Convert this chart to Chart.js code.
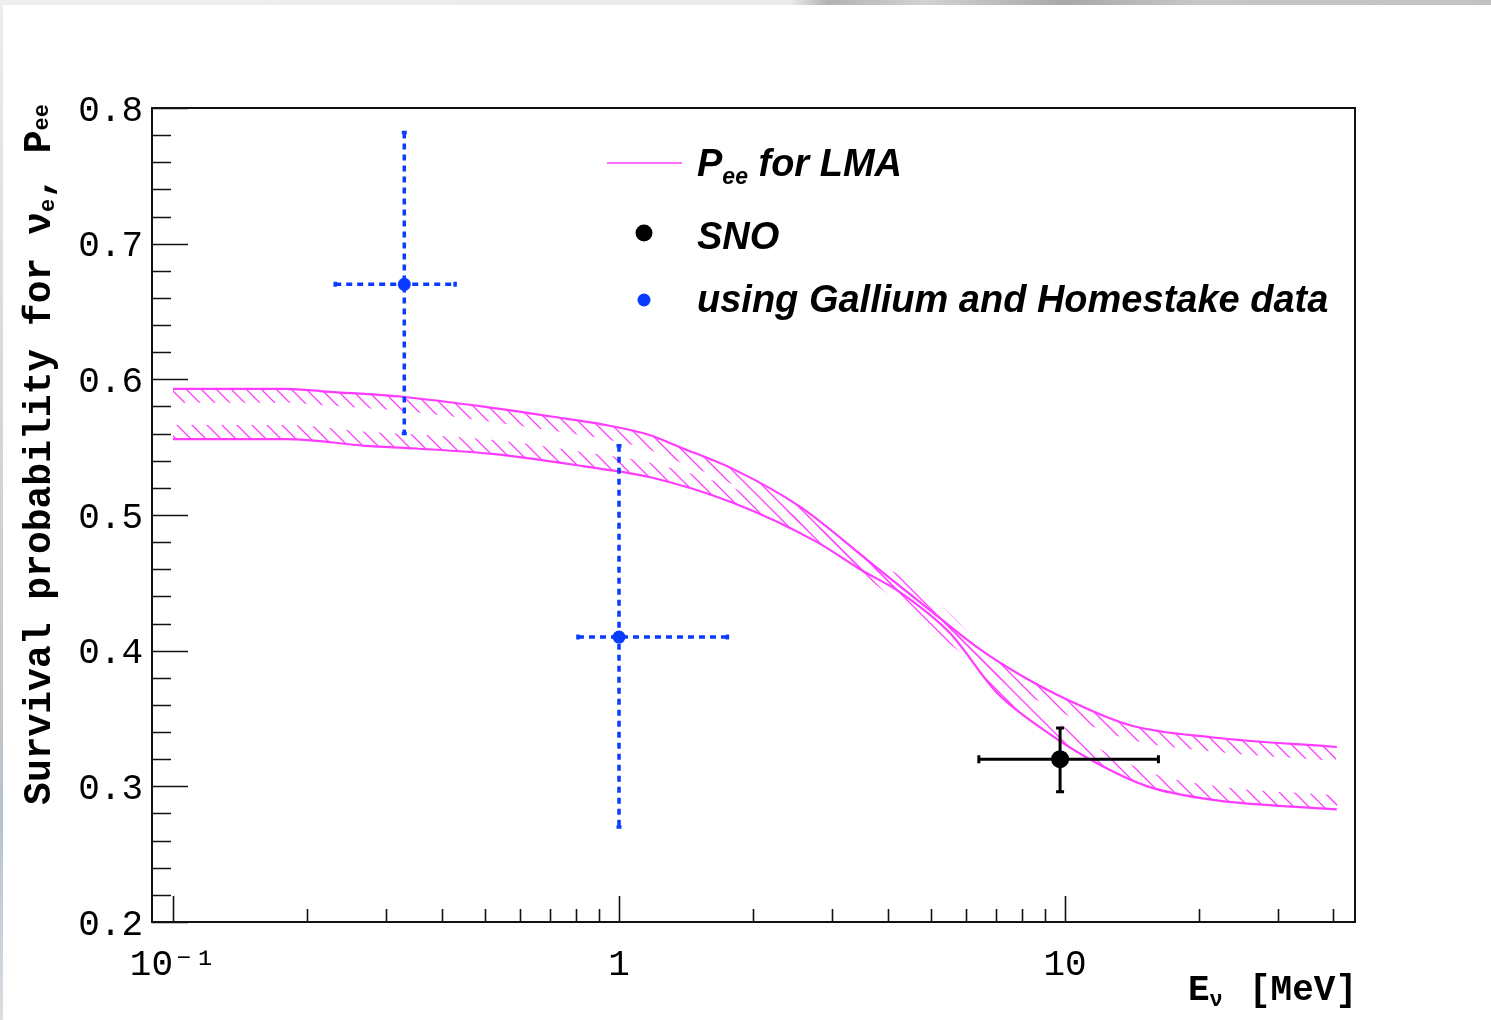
<!DOCTYPE html>
<html lang="en">
<head>
<meta charset="UTF-8">
<title>Survival probability for electron neutrinos</title>
<script src="https://cdn.jsdelivr.net/npm/chart.js@4.4.1/dist/chart.umd.min.js"></script>
<style>
  html, body { margin: 0; padding: 0; background: #fff; }
  #wrap { position: relative; width: 1491px; height: 1020px; overflow: hidden; }
  #topbar { position: absolute; left: 0; top: 0; width: 1491px; height: 5px;
    background: linear-gradient(100deg, #eeeeee 0%, #ebebeb 53%, #b2b2b2 55.5%, #d2d2d2 62%, #a8a8a8 71.5%, #c6c6c6 80%, #c2c2c2 100%); }
  #leftbar { position: absolute; left: 0; top: 5px; width: 3px; height: 1015px;
    background: linear-gradient(#ececec, #d4d4d4 45%, #b8c2ca 80%, #d7dee4); }
  canvas { position: absolute; left: 0; top: 0; }
</style>
</head>
<body>
<div id="wrap">
  <div id="topbar"></div>
  <div id="leftbar"></div>
  <canvas id="pee" width="1491" height="1020"></canvas>
</div>
<script>
  // LMA band: upper and lower edge of P_ee vs neutrino energy (MeV)
  const upperE = [0.1, 0.18, 0.22, 0.33, 0.52, 0.76, 0.91, 1.17, 1.37, 1.8, 2.55, 3.6, 5.06, 6.45, 8.05, 10.1, 14.0, 21.5, 40.7];
  const upperP = [0.593, 0.593, 0.591, 0.587, 0.579, 0.571, 0.567, 0.559, 0.550, 0.534, 0.506, 0.467, 0.428, 0.401, 0.381, 0.364, 0.345, 0.336, 0.329];
  const lowerE = [0.1, 0.18, 0.27, 0.35, 0.52, 0.83, 1.17, 1.8, 2.78, 3.47, 4.27, 5.52, 7.04, 9.11, 11.8, 15.3, 21.5, 40.7];
  const lowerP = [0.556, 0.556, 0.551, 0.549, 0.545, 0.536, 0.528, 0.509, 0.480, 0.460, 0.443, 0.413, 0.369, 0.340, 0.317, 0.300, 0.290, 0.283];

  // SNO measurement
  const snoE = [9.75], snoELo = [6.41], snoEHi = [16.2];
  const snoP = [0.32], snoPLo = [0.296], snoPHi = [0.343];

  // from Gallium and Homestake rates
  const gaE = [0.33, 1.0], gaELo = [0.231, 0.809], gaEHi = [0.429, 1.75];
  const gaP = [0.67, 0.41], gaPLo = [0.56, 0.27], gaPHi = [0.782, 0.551];

  // axis ticks
  const xTickValues = [0.1, 0.2, 0.3, 0.4, 0.5, 0.6, 0.7, 0.8, 0.9, 1, 2, 3, 4, 5, 6, 7, 8, 9, 10, 20, 30, 40];
  const xTickLabels = { 0.1: '10\u207B\u00B9', 1: '1', 10: '10' };
  const xMajor = [0.1, 1, 10];

  const MAGENTA = '#ff3cff';
  const BLUE = '#0a3cff';
  const MONO = '"Liberation Mono", "DejaVu Sans Mono", monospace';
  const SANS = '"Liberation Sans", Arial, sans-serif';

  const pts = (xs, ys) => xs.map((x, i) => ({ x: x, y: ys[i] }));

  // sample the drawn (bezier) line of a dataset in pixel space
  function curveSamples(meta) {
    const p = meta.data;
    const out = [];
    for (let i = 0; i < p.length - 1; i++) {
      const a = p[i], b = p[i + 1];
      const c1x = a.cp2x ?? a.x, c1y = a.cp2y ?? a.y;
      const c2x = b.cp1x ?? b.x, c2y = b.cp1y ?? b.y;
      for (let k = 0; k < 12; k++) {
        const t = k / 12, u = 1 - t;
        out.push({
          x: u * u * u * a.x + 3 * u * u * t * c1x + 3 * u * t * t * c2x + t * t * t * b.x,
          y: u * u * u * a.y + 3 * u * u * t * c1y + 3 * u * t * t * c2y + t * t * t * b.y
        });
      }
    }
    const last = p[p.length - 1];
    out.push({ x: last.x, y: last.y });
    return out;
  }

  // hatched strip on one side of each band edge
  const hatchPlugin = {
    id: 'hatch',
    afterDatasetDraw(chart, args) {
      const ds = chart.data.datasets[args.index];
      if (!ds.hatchSide) return;
      const meta = args.meta;
      meta.dataset.updateControlPoints(chart.chartArea);
      const s = curveSamples(meta);
      const w = 14, side = ds.hatchSide;
      const off = s.map((q, i) => {
        const a = s[Math.max(0, i - 1)], b = s[Math.min(s.length - 1, i + 1)];
        let tx = b.x - a.x, ty = b.y - a.y;
        const l = Math.hypot(tx, ty) || 1;
        tx /= l; ty /= l;
        return { x: q.x - ty * w * side, y: q.y + tx * w * side };
      });
      const ctx = chart.ctx, area = chart.chartArea;
      ctx.save();
      ctx.beginPath();
      ctx.rect(area.left, area.top, area.right - area.left, area.bottom - area.top);
      ctx.clip();
      ctx.beginPath();
      s.forEach((q, i) => i ? ctx.lineTo(q.x, q.y) : ctx.moveTo(q.x, q.y));
      for (let i = off.length - 1; i >= 0; i--) ctx.lineTo(off[i].x, off[i].y);
      ctx.closePath();
      ctx.clip();
      ctx.strokeStyle = MAGENTA;
      ctx.lineWidth = 1.3;
      ctx.beginPath();
      const H = area.bottom - area.top;
      let x0 = area.top + 7;
      while (x0 > area.left - H) x0 -= 15;
      for (let x = x0; x < area.right; x += 15) {
        ctx.moveTo(x, area.top);
        ctx.lineTo(x + H, area.top + H);
      }
      ctx.stroke();
      ctx.restore();
    }
  };

  // horizontal and vertical error bars, under the markers
  const errorBarPlugin = {
    id: 'errorBars',
    beforeDatasetDraw(chart, args) {
      const ds = chart.data.datasets[args.index];
      const eb = ds.errorBars;
      if (!eb) return;
      const ctx = chart.ctx, xs = chart.scales.x, ys = chart.scales.y;
      ctx.save();
      ctx.strokeStyle = eb.color;
      ctx.lineWidth = eb.width;
      ctx.setLineDash(eb.dash);
      ds.data.forEach((d, i) => {
        const px = xs.getPixelForValue(d.x), py = ys.getPixelForValue(d.y);
        const x1 = xs.getPixelForValue(eb.xLo[i]), x2 = xs.getPixelForValue(eb.xHi[i]);
        const y1 = ys.getPixelForValue(eb.yHi[i]), y2 = ys.getPixelForValue(eb.yLo[i]);
        ctx.beginPath();
        ctx.moveTo(x1, py); ctx.lineTo(x2, py);
        ctx.moveTo(px, y1); ctx.lineTo(px, y2);
        ctx.stroke();
        ctx.setLineDash([]);
        ctx.beginPath();
        const c = eb.cap;
        ctx.moveTo(x1, py - c); ctx.lineTo(x1, py + c);
        ctx.moveTo(x2, py - c); ctx.lineTo(x2, py + c);
        ctx.moveTo(px - c, y1); ctx.lineTo(px + c, y1);
        ctx.moveTo(px - c, y2); ctx.lineTo(px + c, y2);
        ctx.stroke();
        ctx.setLineDash(eb.dash);
      });
      ctx.restore();
    }
  };

  function drawRuns(ctx, runs, x, y) {
    for (const r of runs) {
      ctx.font = r.font;
      ctx.fillText(r.t, x, y + (r.dy || 0));
      x += ctx.measureText(r.t).width;
    }
  }
  function runsWidth(ctx, runs) {
    let w = 0;
    for (const r of runs) { ctx.font = r.font; w += ctx.measureText(r.t).width; }
    return w;
  }

  // frame, inside ticks, axis titles and legend
  const framePlugin = {
    id: 'frame',
    afterDraw(chart) {
      const ctx = chart.ctx, a = chart.chartArea;
      const xs = chart.scales.x, ys = chart.scales.y;
      ctx.save();
      ctx.strokeStyle = '#111';
      ctx.lineWidth = 1.6;
      ctx.beginPath();
      ys.ticks.forEach(t => {
        const py = Math.round(ys.getPixelForValue(t.value)) + 0.5;
        const len = t.label ? 36 : 19;
        ctx.moveTo(a.left, py); ctx.lineTo(a.left + len, py);
      });
      xs.ticks.forEach(t => {
        const px = Math.round(xs.getPixelForValue(t.value)) + 0.5;
        const len = xMajor.includes(t.value) ? 26 : 13;
        ctx.moveTo(px, a.bottom); ctx.lineTo(px, a.bottom - len);
      });
      ctx.stroke();
      ctx.lineWidth = 2;
      ctx.strokeRect(a.left, a.top, a.right - a.left, a.bottom - a.top);

      ctx.fillStyle = '#000';
      ctx.textAlign = 'left';
      ctx.textBaseline = 'alphabetic';

      // y title
      const big = 'bold 38px ' + MONO, sub = 'bold 22px ' + MONO;
      const yRuns = [
        { t: 'Survival probability for \u03BD', font: big },
        { t: 'e', font: sub, dy: 4 },
        { t: ', P', font: big },
        { t: 'ee', font: sub, dy: -2 }
      ];
      const wy = runsWidth(ctx, yRuns);
      ctx.save();
      ctx.translate(50, 104);
      ctx.rotate(-Math.PI / 2);
      drawRuns(ctx, yRuns, -wy, 0);
      ctx.restore();

      // x title
      drawRuns(ctx, [
        { t: 'E', font: 'bold 36px ' + MONO },
        { t: '\u03BD', font: 'bold 22px ' + MONO, dy: 6 }
      ], 1188, 1000);
      ctx.font = 'bold 36px ' + MONO;
      ctx.textAlign = 'right';
      ctx.fillText('[MeV]', 1357, 1000);
      ctx.textAlign = 'left';

      // legend
      ctx.strokeStyle = MAGENTA;
      ctx.lineWidth = 1.5;
      ctx.beginPath();
      ctx.moveTo(607, 163); ctx.lineTo(682, 163);
      ctx.stroke();
      const lf = 'italic bold 38px ' + SANS, lsub = 'italic bold 23px ' + SANS;
      drawRuns(ctx, [{ t: 'P', font: lf }, { t: 'ee', font: lsub, dy: 8 }, { t: ' for LMA', font: lf }], 697, 176);
      ctx.beginPath();
      ctx.arc(644, 233, 8.5, 0, Math.PI * 2);
      ctx.fill();
      drawRuns(ctx, [{ t: 'SNO', font: lf }], 697, 249);
      ctx.fillStyle = BLUE;
      ctx.beginPath();
      ctx.arc(644, 300, 6.5, 0, Math.PI * 2);
      ctx.fill();
      ctx.fillStyle = '#000';
      drawRuns(ctx, [{ t: 'using Gallium and Homestake data', font: lf }], 697, 312);
      ctx.restore();
    }
  };

  new Chart(document.getElementById('pee'), {
    type: 'line',
    data: {
      datasets: [
        {
          label: 'LMA upper', data: pts(upperE, upperP), hatchSide: 1, order: 3,
          borderColor: MAGENTA, borderWidth: 2.2, pointRadius: 0, fill: false,
          cubicInterpolationMode: 'monotone'
        },
        {
          label: 'LMA lower', data: pts(lowerE, lowerP), hatchSide: -1, order: 3,
          borderColor: MAGENTA, borderWidth: 2.2, pointRadius: 0, fill: false,
          cubicInterpolationMode: 'monotone'
        },
        {
          label: 'SNO', data: pts(snoE, snoP), showLine: false, order: 1,
          pointRadius: 9, pointBackgroundColor: '#000', pointBorderWidth: 0,
          errorBars: { xLo: snoELo, xHi: snoEHi, yLo: snoPLo, yHi: snoPHi, color: '#000', width: 3, dash: [], cap: 4 }
        },
        {
          label: 'using Gallium and Homestake data', data: pts(gaE, gaP), showLine: false, order: 1,
          pointRadius: 6.5, pointBackgroundColor: BLUE, pointBorderWidth: 0,
          errorBars: { xLo: gaELo, xHi: gaEHi, yLo: gaPLo, yHi: gaPHi, color: BLUE, width: 3.5, dash: [6, 5], cap: 2.5 }
        }
      ]
    },
    options: {
      responsive: false,
      animation: false,
      events: [],
      layout: { padding: { left: 0, right: 136, top: 108, bottom: 0 } },
      plugins: { legend: { display: false }, tooltip: { enabled: false } },
      scales: {
        x: {
          type: 'logarithmic',
          min: 0.0897, max: 44.7,
          afterBuildTicks: s => { s.ticks = xTickValues.map(v => ({ value: v })); },
          afterFit: s => { s.height = 98; },
          grid: { display: false, drawTicks: false },
          border: { display: false },
          ticks: {
            autoSkip: false, maxRotation: 0, padding: 22, color: '#000',
            font: { family: MONO, size: 36 },
            callback: v => xTickLabels[v] || ''
          }
        },
        y: {
          min: 0.2, max: 0.8,
          afterFit: s => { s.width = 152; },
          grid: { display: false, drawTicks: false },
          border: { display: false },
          ticks: {
            stepSize: 0.02, autoSkip: false, padding: 9, labelOffset: 3, color: '#000',
            font: { family: MONO, size: 36 },
            callback: v => Math.abs(v * 10 - Math.round(v * 10)) < 1e-6 ? v.toFixed(1) : ''
          }
        }
      }
    },
    plugins: [hatchPlugin, errorBarPlugin, framePlugin]
  });
</script>
</body>
</html>
